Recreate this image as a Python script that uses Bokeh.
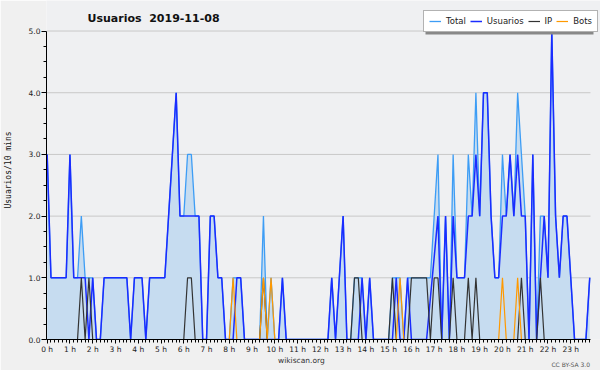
from bokeh.plotting import figure
from bokeh.models import (Range1d, FixedTicker, PrintfTickFormatter, Label, Legend,
                          LegendItem, BoxAnnotation, LinearAxis)
from bokeh.embed import file_html
from bokeh.resources import INLINE

# 144 ten-minute slots, 2019-11-08
usuarios = [3, 1, 1, 1, 1, 1, 3, 1, 1, 1, 1, 0, 1, 0, 0, 1, 1, 1, 1, 1, 1, 1, 0, 1,
            1, 1, 0, 1, 1, 1, 1, 1, 2, 3, 4, 2, 2, 2, 2, 2, 2, 0, 0, 2, 2, 1, 1, 0,
            0, 0, 1, 1, 0, 0, 0, 0, 0, 0, 0, 0, 0, 0, 1, 0, 0, 0, 0, 0, 0, 0, 0, 0,
            0, 0, 0, 1, 0, 1, 2, 0, 0, 0, 0, 1, 0, 1, 0, 0, 0, 0, 0, 0, 1, 0, 0, 1,
            0, 0, 0, 0, 0, 0.67, 1.33, 2, 0, 2, 0, 2, 1, 1, 1, 2, 2, 3, 2, 4, 4, 2, 1, 1,
            2, 2, 3, 2, 3, 2, 2, 0, 3, 0, 1, 2, 1, 5, 2, 1, 2, 2, 1, 0, 0, 0, 0, 1]
ip = [0, 0, 0, 0, 0, 0, 0, 0, 0, 1, 0, 1, 0, 0, 0, 0, 0, 0, 0, 0, 0, 0, 0, 0,
      0, 0, 0, 0, 0, 0, 0, 0, 0, 0, 0, 0, 0, 1, 1, 0, 0, 0, 0, 0, 0, 0, 0, 0,
      0, 0, 0, 0, 0, 0, 0, 0, 0, 1, 0, 0, 0, 0, 0, 0, 0, 0, 0, 0, 0, 0, 0, 0,
      0, 0, 0, 0, 0, 0, 0, 0, 0, 1, 1, 0, 0, 0, 0, 0, 0, 0, 0, 1, 0, 0, 0, 0,
      1, 1, 1, 1, 1, 0, 1, 1, 0, 0, 0, 1, 0, 0, 0, 1, 0, 1, 0, 0, 0, 0, 0, 0,
      0, 0, 0, 0, 0, 1, 0, 0, 0, 0, 1, 0, 0, 0, 0, 0, 0, 0, 0, 0, 0, 0, 0, 0]
bots = [0, 0, 0, 0, 0, 0, 0, 0, 0, 0, 0, 0, 0, 0, 0, 0, 0, 0, 0, 0, 0, 0, 0, 0,
        0, 0, 0, 0, 0, 0, 0, 0, 0, 0, 0, 0, 0, 0, 0, 0, 0, 0, 0, 0, 0, 0, 0, 0,
        0, 1, 0, 0, 0, 0, 0, 0, 0, 1, 0, 1, 0, 0, 0, 0, 0, 0, 0, 0, 0, 0, 0, 0,
        0, 0, 0, 0, 0, 0, 0, 0, 0, 0, 0, 0, 0, 0, 0, 0, 0, 0, 0, 0, 0, 1, 0, 0,
        0, 0, 0, 0, 0, 0, 0, 0, 0, 0, 0, 0, 0, 0, 0, 0, 0, 0, 0, 0, 0, 0, 0, 0,
        1, 0, 0, 0, 1, 0, 0, 0, 0, 0, 0, 0, 0, 0, 0, 0, 0, 0, 0, 0, 0, 0, 0, 0]
total = [3, 1, 1, 1, 1, 1, 3, 1, 1, 2, 1, 1, 1, 0, 0, 1, 1, 1, 1, 1, 1, 1, 0, 1,
         1, 1, 0, 1, 1, 1, 1, 1, 2, 3, 4, 2, 2, 3, 3, 2, 2, 0, 0, 2, 2, 1, 1, 0,
         0, 1, 1, 1, 0, 0, 0, 0, 0, 2, 0, 1, 0, 0, 1, 0, 0, 0, 0, 0, 0, 0, 0, 0,
         0, 0, 0, 1, 0, 1, 2, 0, 0, 1, 1, 1, 0, 1, 0, 0, 0, 0, 0, 1, 1, 1, 0, 1,
         1, 1, 1, 1, 1, 1, 2, 3, 0, 2, 0, 3, 1, 1, 1, 3, 2, 4, 2, 4, 4, 2, 1, 1,
         3, 2, 3, 2, 4, 3, 2, 0, 3, 0, 2, 2, 1, 5, 2, 1, 2, 2, 1, 0, 0, 0, 0, 1]
slots = list(range(len(usuarios)))
hour_ticks = [0, 6, 12, 18, 24, 30, 36, 42, 48, 54, 60, 66, 72, 78, 84, 90,
              96, 102, 108, 114, 120, 126, 132, 138]
hour_labels = ["0 h", "1 h", "2 h", "3 h", "4 h", "5 h", "6 h", "7 h", "8 h", "9 h",
               "10 h", "11 h", "12 h", "13 h", "14 h", "15 h", "16 h", "17 h",
               "18 h", "19 h", "20 h", "21 h", "22 h", "23 h"]
y_ticks = [0, 1, 2, 3, 4, 5]
y_minor = [0.25, 0.5, 0.75, 1.25, 1.5, 1.75, 2.25, 2.5, 2.75, 3.25, 3.5, 3.75,
           4.25, 4.5, 4.75]
grid_y = [1, 2, 3, 4, 5]

C_FILL = "#c6dcf0"
C_TOTAL = "#3d9df5"
C_USR = "#1a2cff"
C_IP = "#333333"
C_BOTS = "#ff9900"
FONT = "DejaVu Sans"

X0, X1 = -0.18, 145.84      # frame reaches the right edge of the canvas
Y1 = 5.495                  # frame reaches the top edge of the canvas
XEND = 143.2                # end of the drawn x axis

p = figure(width=600, height=370, output_backend="svg", toolbar_location=None,
           x_range=Range1d(X0, X1), y_range=Range1d(0, Y1),
           min_border_left=46, min_border_right=0, min_border_top=0,
           min_border_bottom=26)
p.border_fill_color = "#f0f0f0"
p.background_fill_color = "#eff0f2"
p.outline_line_color = None
p.xgrid.visible = False
p.ygrid.visible = False

# horizontal grid lines, limited to the plotting area
p.segment(x0=[X0] * len(grid_y), x1=[XEND] * len(grid_y), y0=grid_y, y1=grid_y,
          line_color="#c8c8c8", line_width=1)

p.xaxis.ticker = FixedTicker(ticks=hour_ticks, minor_ticks=slots)
p.xaxis.major_label_overrides = {t: l for t, l in zip(hour_ticks, hour_labels)}
p.xaxis.bounds = (X0, XEND)
p.yaxis.ticker = FixedTicker(ticks=y_ticks, minor_ticks=y_minor)
p.yaxis.formatter = PrintfTickFormatter(format="%.1f")
p.yaxis.bounds = (0, 5)
for ax in (p.xaxis, p.yaxis):
    ax.axis_line_color = "black"
    ax.major_tick_line_color = "black"
    ax.minor_tick_line_color = "black"
    ax.major_tick_in = 0
    ax.minor_tick_in = 0
    ax.major_label_text_font = FONT
    ax.major_label_text_font_size = "7.5px"
    ax.major_label_text_color = "#222222"
    ax.major_label_standoff = 1
p.xaxis.major_tick_out = 4
p.xaxis.minor_tick_out = 3
p.yaxis.major_tick_out = 5
p.yaxis.minor_tick_out = 3
p.yaxis.axis_label = "Usuarios/10 mins"
p.yaxis.axis_label_text_font = "DejaVu Sans Mono"
p.yaxis.axis_label_text_font_size = "8px"
p.yaxis.axis_label_text_font_style = "normal"
p.yaxis.axis_label_text_color = "#111111"
p.yaxis.axis_label_standoff = 13

# footer texts, carried by label-only axes below the main one
credit_pos = [67, 138]
credit_text = ["wikiscan.org", "CC BY-SA 3.0"]
for pos, txt, size, stand in [(credit_pos[0], credit_text[0], "7.5px", -1),
                              (credit_pos[1], credit_text[1], "6px", -7)]:
    ax = LinearAxis(ticker=FixedTicker(ticks=[pos], minor_ticks=[]),
                    major_label_overrides={pos: txt},
                    axis_line_color=None, major_tick_line_color=None,
                    minor_tick_line_color=None, major_tick_out=0, minor_tick_out=0,
                    major_tick_in=0, minor_tick_in=0,
                    major_label_standoff=stand, major_label_text_font=FONT,
                    major_label_text_font_size=size,
                    major_label_text_color="#333333" if size == "7.5px" else "#555555")
    p.add_layout(ax, "below")

p.varea(x=slots, y1=0, y2=total, fill_color=C_FILL)
r_total = p.line(slots, total, line_color=C_TOTAL, line_width=1.3)
r_usr = p.line(slots, usuarios, line_color=C_USR, line_width=1.5)
r_ip = p.line(slots, ip, line_color=C_IP, line_width=1.2)
r_bots = p.line(slots, bots, line_color=C_BOTS, line_width=1.2)

p.add_layout(Label(x=41, y=321.5, x_units="screen", y_units="screen",
                   text="Usuarios\u00a0 2019-11-08", text_font=FONT,
                   text_font_size="11px", text_font_style="bold",
                   text_baseline="alphabetic", text_color="#111111"))

p.add_layout(BoxAnnotation(left=379, right=547, top=325, bottom=305,
                           left_units="screen", right_units="screen",
                           top_units="screen", bottom_units="screen",
                           fill_color="#888888", fill_alpha=1.0, line_color=None))

legend = Legend(items=[LegendItem(label="Total", renderers=[r_total]),
                       LegendItem(label="Usuarios", renderers=[r_usr]),
                       LegendItem(label="IP", renderers=[r_ip]),
                       LegendItem(label="Bots", renderers=[r_bots])],
                orientation="horizontal", location=(377, 307),
                glyph_width=12, glyph_height=10, label_height=10, label_width=0,
                label_standoff=5, spacing=4, padding=5, margin=0,
                label_text_font=FONT, label_text_font_size="8.5px",
                label_text_color="#222222",
                background_fill_color="white", background_fill_alpha=1.0,
                border_line_color="#666666", border_line_width=1)
p.add_layout(legend, "center")

open("out.html", "w").write(file_html(p, INLINE))
